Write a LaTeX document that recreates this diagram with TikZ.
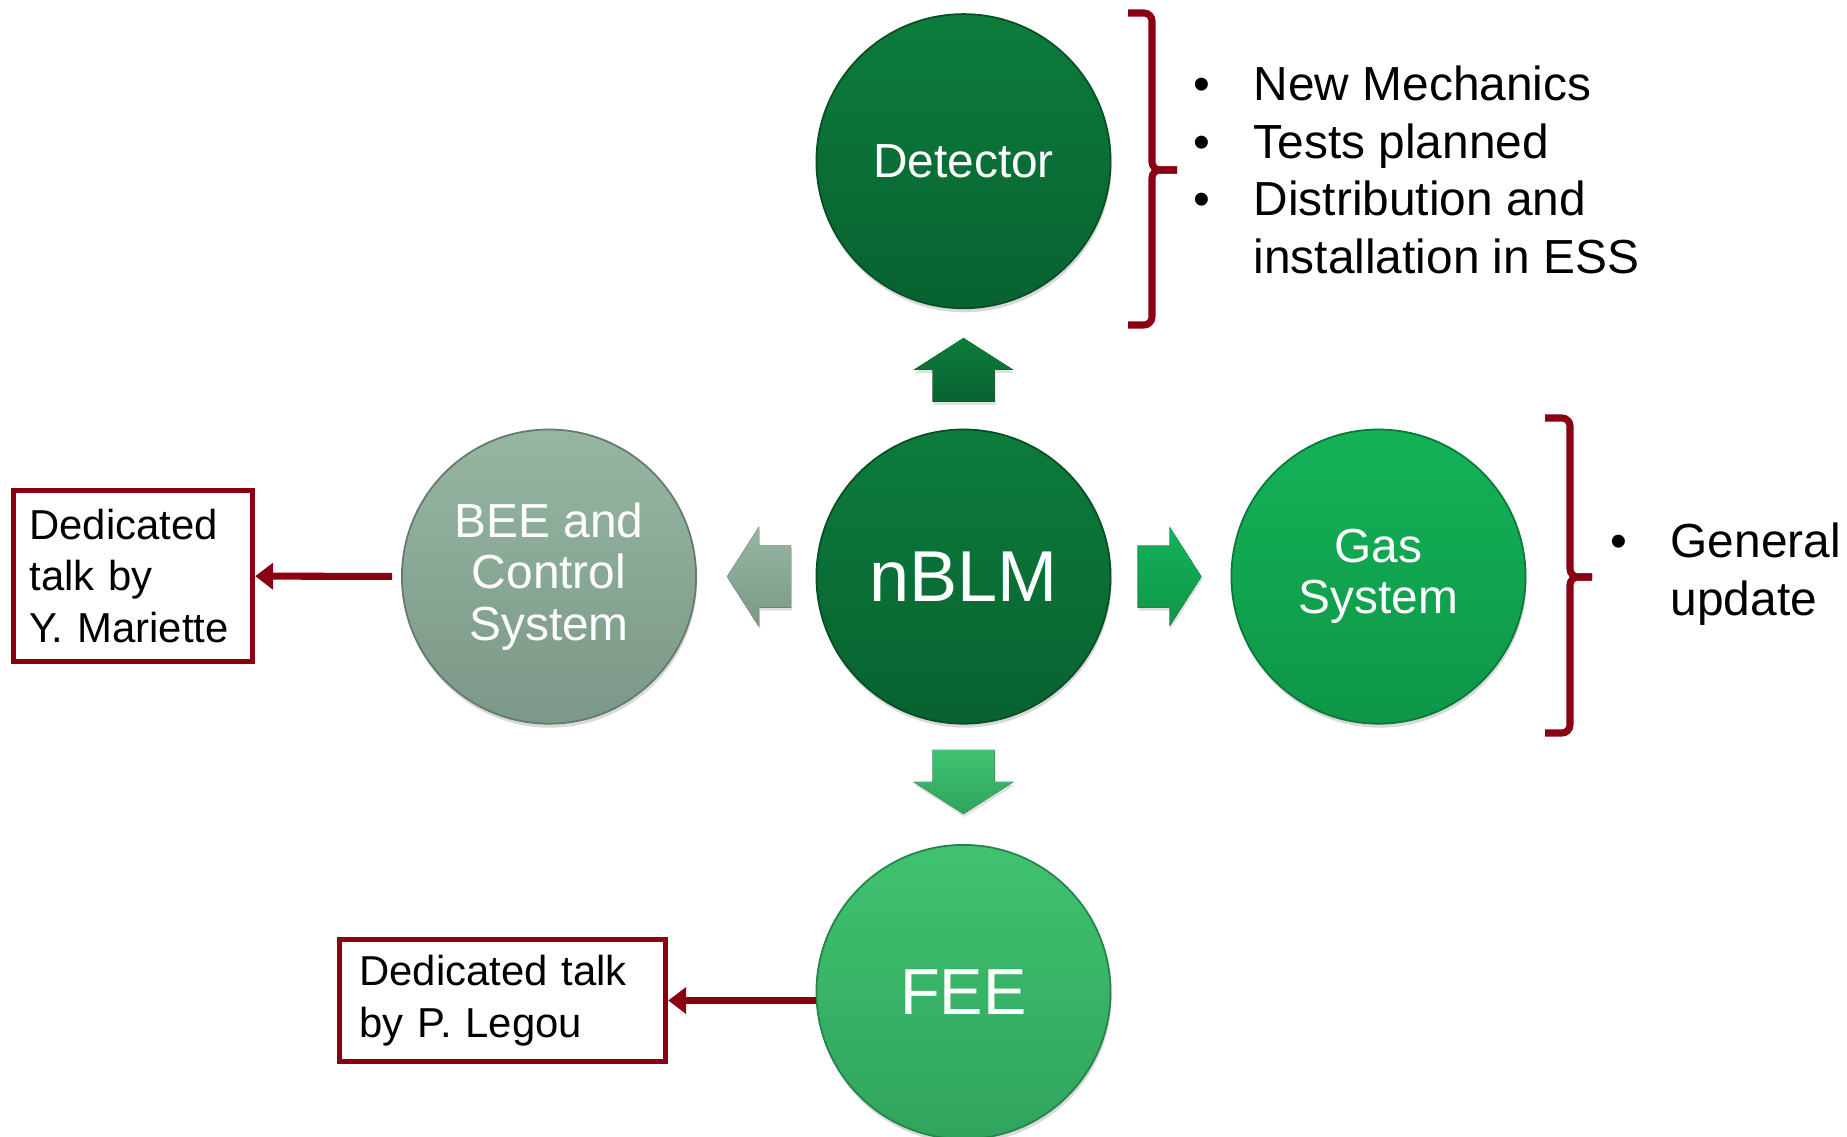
\documentclass[tikz,border=0pt]{standalone}
\usepackage{fontspec}
\setmainfont{Liberation Sans}
\usepackage{xcolor}
\usepackage{tikz}
\usetikzlibrary{arrows.meta,shadows}
\definecolor{talkred}{RGB}{139,0,18}
\definecolor{darktop}{RGB}{12,124,60}
\definecolor{darkbot}{RGB}{8,98,48}
\definecolor{greytop}{RGB}{150,182,162}
\definecolor{greybot}{RGB}{124,152,136}
\definecolor{gastop}{RGB}{20,178,88}
\definecolor{gasbot}{RGB}{14,150,72}
\definecolor{feetop}{RGB}{64,194,112}
\definecolor{feebot}{RGB}{48,164,94}

\begin{document}
\begin{tikzpicture}[x=0.01cm, y=-0.01cm,
	ball/.style 2 args={circle, minimum size=2.94cm, inner sep=0pt, top color=#1, bottom color=#2, draw=#2!80!black, line width=0.5pt, text=white, align=center, font=\fontsize{13.6}{14.6}\selectfont, drop shadow={opacity=0.3, shadow xshift=0.01cm, shadow yshift=-0.04cm}},
	block/.style 2 args={top color=#1, bottom color=#2, drop shadow={opacity=0.25, shadow xshift=0.01cm, shadow yshift=-0.03cm}},
	brace/.style={draw=talkred, line width=2pt, rounded corners=0.08cm},
	talkbox/.style={rectangle, draw=talkred, line width=1.5pt, fill=white, align=left, inner xsep=0.16cm, font=\fontsize{11.9}{14.65}\selectfont},
	talk/.style={draw=talkred, line width=2pt, -{Triangle[length=0.18cm, width=0.26cm]}},
	list/.style={anchor=base west, inner sep=0pt, font=\fontsize{13.6}{16.4}\selectfont}]
			\useasboundingbox (0,0) rectangle (1847,1137);
			\coordinate (c0) at (963.5,576.6);
			\coordinate (c1) at (963.5,161.2);
			\coordinate (c2) at (549,576.6);
			\coordinate (c3) at (1378.5,576.6);
			\coordinate (c4) at (963.5,992);
			
			\fill[block={darktop}{darkbot}] (932.5,402) -- (932.5,370) -- (913.5,370) -- (963.5,338) -- (1013.5,370) -- (994.5,370) -- (994.5,402) -- cycle;
			\fill[block={feetop}{feebot}] (932.5,750) -- (994.5,750) -- (994.5,782) -- (1013.5,782) -- (963.5,814) -- (913.5,782) -- (932.5,782) -- cycle;
			\fill[block={greytop}{greybot}] (791,545.6) -- (759,545.6) -- (759,526.6) -- (727,576.6) -- (759,626.6) -- (759,607.6) -- (791,607.6) -- cycle;
			\fill[block={gastop}{gasbot}] (1137.5,545.6) -- (1169.5,545.6) -- (1169.5,526.6) -- (1201.5,576.6) -- (1169.5,626.6) -- (1169.5,607.6) -- (1137.5,607.6) -- cycle;
			
			\node (nblm) at (c0) [ball={darktop}{darkbot}, font=\fontsize{20.5}{24}\selectfont] {nBLM};
			\node (detector) at (c1) [ball={darktop}{darkbot}] {Detector};
			\node (bee) at (c2) [ball={greytop}{greybot}] {BEE and\\Control\\System};
			\node (gas) at (c3) [ball={gastop}{gasbot}] {Gas\\System};
			\node (fee) at (c4) [ball={feetop}{feebot}, font=\fontsize{18.5}{22}\selectfont] {FEE};
			
			\draw[brace] (1128,13) -- (1152,13) -- (1152,170) -- (1177,170);
			\draw[brace] (1128,325) -- (1152,325) -- (1152,170) -- (1177,170);
			\draw[brace] (1545,418) -- (1570,418) -- (1570,577) -- (1592,577);
			\draw[brace] (1545,733) -- (1570,733) -- (1570,577) -- (1592,577);
			
			\node (detlist) at (1193,100.6) [list] {\begin{tabular}[t]{@{}p{0.6cm}@{}l@{}}
				\textbullet & New Mechanics\\
				\textbullet & Tests planned\\
				\textbullet & Distribution and\\
				& installation in ESS
			\end{tabular}};
			\node (gaslist) at (1610,557.7) [list] {\begin{tabular}[t]{@{}p{0.6cm}@{}l@{}}
				\textbullet & General\\
				& update
			\end{tabular}};
			
			\node (talkbee) at (133,576) [talkbox, minimum width=2.39cm, minimum height=1.71cm, text width=2.07cm] {Dedicated\\talk by\\Y. Mariette};
			\node (talkfee) at (502.5,1000.5) [talkbox, minimum height=1.22cm, text width=2.86cm, inner xsep=0.2cm] {Dedicated talk\\by P. Legou};
			
			\draw[talk, shorten <=0.09cm] (bee) -- (talkbee);
			\draw[talk] (fee.west |- talkfee.east) -- (talkfee.east);
		\end{tikzpicture}
\end{document}
